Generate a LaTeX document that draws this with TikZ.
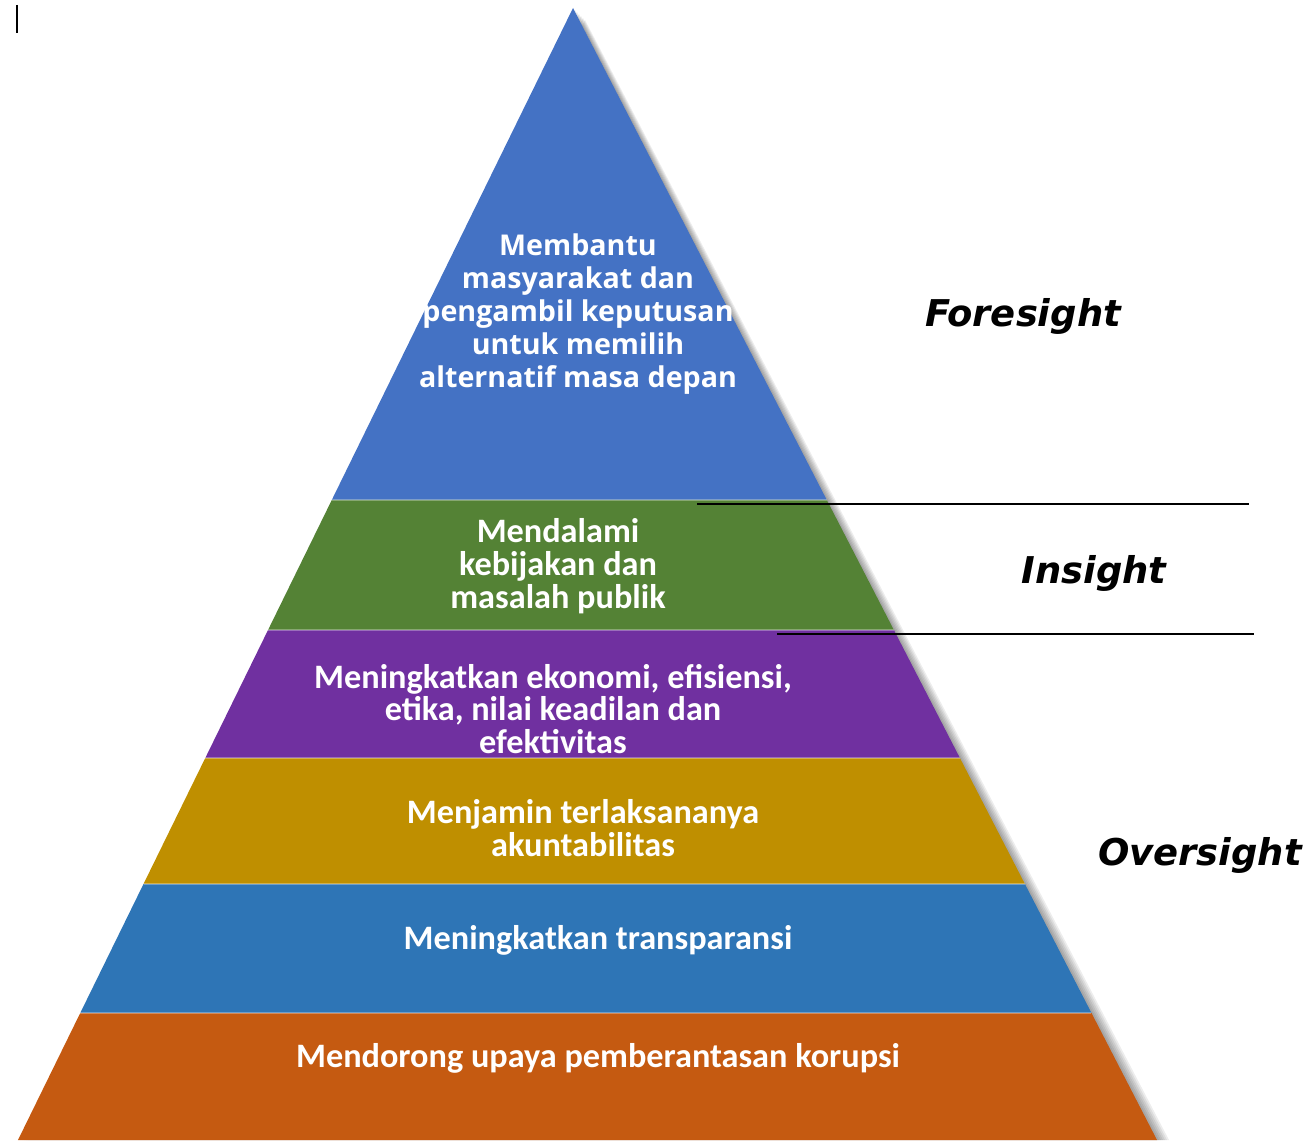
\documentclass[tikz,border=0pt]{standalone}
\usepackage{fontspec}
\newfontfamily\sightfont{DejaVu Sans}
\newfontfamily\bandfont{Carlito}
\newfontfamily\topfont{Open Sans}

\definecolor{layerA}{HTML}{4472C4}
\definecolor{layerB}{HTML}{548235}
\definecolor{layerC}{HTML}{7030A0}
\definecolor{layerD}{HTML}{BF8F00}
\definecolor{layerE}{HTML}{2E75B6}
\definecolor{layerF}{HTML}{C55A11}

\begin{document}
\begin{tikzpicture}[x=0.02cm,y=-0.02cm,
	bandtext/.style={text=white,align=center,font=\bandfont\bfseries\fontsize{19.5}{18.7}\selectfont},
	toptext/.style={text=white,align=center,font=\topfont\bfseries\fontsize{16.3}{18.7}\selectfont},
	sight/.style={text=black,font=\sightfont\bfseries\itshape\fontsize{21}{24}\selectfont}]
	\useasboundingbox (0,0) rectangle (1311,1141);

	% cursor
	\draw[line width=1.2pt] (17,5) -- (17,33);

	% shadow
	\foreach \s in {2,4,6,8,10,12} {
	 \fill[black,opacity=0.07] (573+\s,8+\s) -- (1157+\s,1140) -- (18+\s,1140) -- cycle;
	}

	% layers
	\foreach \ya/\yb/\col in {8/500/layerA, 500/630/layerB, 630/758/layerC, 758/884/layerD, 884/1013/layerE, 1013/1140/layerF} {
	 \fill[\col] ({573-0.4903*(\ya-8)},\ya) -- ({573+0.5159*(\ya-8)},\ya)
	   -- ({573+0.5159*(\yb-8)},\yb) -- ({573-0.4903*(\yb-8)},\yb) -- cycle;
	}
	\foreach \y in {500,630,758,884,1013} {
	 \draw[white,opacity=0.3,line width=0.6pt] ({573-0.4903*(\y-8)},\y) -- ({573+0.5159*(\y-8)},\y);
	}

	% texts
	\node[toptext] (foretext) at (578,314) {Membantu\\masyarakat dan\\pengambil keputusan\\untuk memilih\\alternatif masa depan};
	\node[bandtext] (intext) at (558,566) {Mendalami\\kebijakan dan\\masalah publik};
	\node[bandtext] (ekotext) at (553,709) {Meningkatkan ekonomi, efisiensi,\\etika, nilai keadilan dan\\efektivitas};
	\node[bandtext] (akuntext) at (583,828) {Menjamin terlaksananya\\akuntabilitas};
	\node[bandtext] (transtext) at (598,940) {Meningkatkan transparansi};
	\node[bandtext] (korutext) at (598,1058) {Mendorong upaya pemberantasan korupsi};

	% levels
	\node[sight] (fore) at (1023,316) {Foresight};
	\node[sight] (in) at (1094,573) {Insight};
	\node[sight] (over) at (1200,855) {Oversight};

	% separators
	\draw[line width=0.8pt] (697,504) -- (1249,504);
	\draw[line width=0.8pt] (777,634) -- (1254,634);
\end{tikzpicture}
\end{document}
